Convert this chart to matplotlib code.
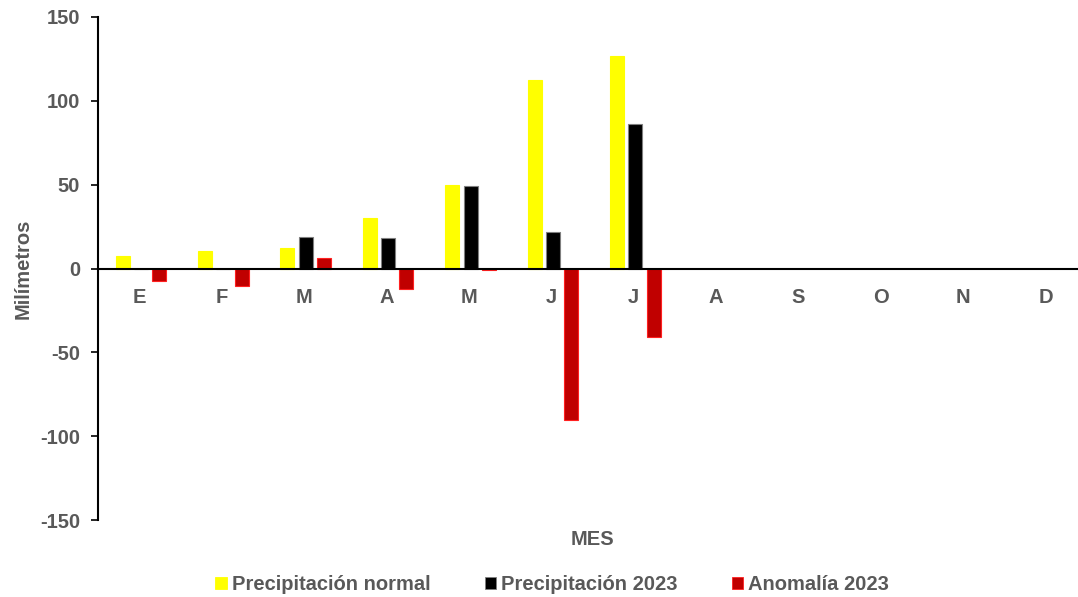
import matplotlib.pyplot as plt
import numpy as np
from matplotlib.patches import Patch

plt.rcParams["font.family"] = ["Liberation Sans", "DejaVu Sans"]
plt.rcParams["axes.unicode_minus"] = False

months = ["E", "F", "M", "A", "M", "J", "J", "A", "S", "O", "N", "D"]
normal = [7.7, 10.3, 12.5, 30.0, 50.0, 112.5, 127.0]
rain_2023 = [0.0, 0.0, 19.0, 18.0, 49.4, 22.0, 86.0]
anomaly_2023 = [-7.7, -10.3, 6.5, -12.0, -0.6, -90.5, -41.0]

series_names = ["Precipitación normal", "Precipitación 2023", "Anomalía 2023"]
fill_colors = ["#FFFF00", "#000000", "#C00000"]
edge_colors = ["#FFFF00", "#7F7F7F", "#FF2020"]
text_grey = "#595959"
font_size = 14.5

figure = plt.figure(figsize=(10.78, 5.97), dpi=100)
axis = figure.add_axes([98 / 1078, 1 - 520 / 597, 989 / 1078, 503 / 597])

positions = np.arange(len(months))
offset = 0.222
width = 0.17
for index, values in enumerate([normal, rain_2023, anomaly_2023]):
    x = np.arange(len(values)) + (index - 1) * offset + 0.02
    axis.bar(
        x,
        values,
        width=width,
        color=fill_colors[index],
        edgecolor=edge_colors[index],
        linewidth=0.8,
        zorder=2,
    )

axis.set_xlim(-0.5, 11.5)
axis.set_ylim(-150, 150)
axis.set_yticks(np.arange(-150, 151, 50))
axis.set_xticks(positions, labels=months)

axis.spines["top"].set_visible(False)
axis.spines["right"].set_visible(False)
axis.spines["bottom"].set_position(("data", 0))
axis.spines["bottom"].set_linewidth(1.5)
axis.spines["bottom"].set_zorder(3)
axis.spines["left"].set_linewidth(1.5)

axis.tick_params(axis="x", length=0, pad=14, labelsize=font_size,
                 labelcolor=text_grey)
axis.tick_params(axis="y", length=5, width=1.2, direction="out", pad=8,
                 labelsize=font_size, labelcolor=text_grey)
for label in axis.get_xticklabels() + axis.get_yticklabels():
    label.set_fontweight("bold")

axis.set_xlabel("MES", fontsize=font_size, fontweight="bold", color=text_grey)
axis.xaxis.set_label_coords(0.5, -0.02)
axis.set_ylabel("Milímetros", fontsize=font_size, fontweight="bold",
                color=text_grey)
axis.yaxis.set_label_coords(-0.066, 0.5)

handles = [
    Patch(facecolor=fill_colors[i], edgecolor=edge_colors[i], linewidth=0.6)
    for i in range(3)
]
legend = figure.legend(
    handles,
    series_names,
    loc="center",
    bbox_to_anchor=(552 / 1078, 1 - 585 / 597),
    ncol=3,
    frameon=False,
    fontsize=font_size,
    handlelength=0.55,
    handleheight=0.55,
    handletextpad=0.25,
    columnspacing=2.7,
)
for text in legend.get_texts():
    text.set_fontweight("bold")
    text.set_color(text_grey)

figure.savefig("out.png", dpi=100)
